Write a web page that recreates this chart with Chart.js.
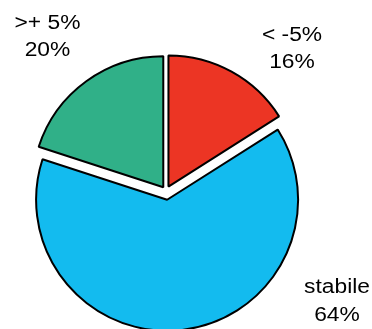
<!DOCTYPE html>
<html>
<head>
<meta charset="utf-8">
<script src="https://cdn.jsdelivr.net/npm/chart.js@4/dist/chart.umd.min.js"></script>
<style>
  html, body { margin: 0; padding: 0; background: #ffffff; }
  #wrap { width: 372px; height: 329px; position: relative; }
</style>
</head>
<body>
<div id="wrap"><canvas id="c" width="372" height="329"></canvas></div>
<script>
const categories = ['< -5%', 'stabile', '>+ 5%'];
const values = [16, 64, 20];
const colors = ['#EC3524', '#13BBEF', '#30B088'];

// label anchor offsets (relative to pie centre): [centre-x offset, first baseline offset]
const labelAnchors = [[126, -150.5], [171, 102], [-118.5, -162.5]];
const explode = 4.4;

function pieCentre(chart) {
  const a = chart.chartArea;
  return { x: (a.left + a.right) / 2, y: (a.top + a.bottom) / 2 };
}

// explode each slice outward along its mid-angle
const explodePlugin = {
  id: 'explodeSlices',
  afterDatasetUpdate(chart, args) {
    const c = pieCentre(chart);
    const meta = chart.getDatasetMeta(args.index);
    meta.data.forEach(arc => {
      const mid = (arc.startAngle + arc.endAngle) / 2;
      const circ = arc.endAngle - arc.startAngle;
      const fix = 1 - Math.sin(Math.min(Math.PI, circ));
      const t = explode * (1 + fix);
      arc.x = c.x + Math.cos(mid) * t;
      arc.y = c.y + Math.sin(mid) * t;
    });
  }
};

const labelPlugin = {
  id: 'outerLabels',
  afterDatasetsDraw(chart) {
    const ctx = chart.ctx;
    const meta = chart.getDatasetMeta(0);
    const c = pieCentre(chart);
    ctx.save();
    ctx.fillStyle = '#000000';
    ctx.font = '20px "Liberation Sans", Arial, sans-serif';
    ctx.textAlign = 'center';
    ctx.textBaseline = 'alphabetic';
    meta.data.forEach((arc, i) => {
      const lines = [categories[i], values[i] + '%'];
      const ax = c.x + labelAnchors[i][0];
      const ay = c.y + labelAnchors[i][1];
      lines.forEach((t, k) => {
        ctx.save();
        ctx.translate(ax, ay + k * 27.5);
        ctx.scale(1.14, 1);
        ctx.fillText(t, 0, 0);
        ctx.restore();
      });
    });
    ctx.restore();
  }
};

new Chart(document.getElementById('c'), {
  type: 'pie',
  data: {
    labels: categories,
    datasets: [{
      data: values,
      backgroundColor: colors,
      borderColor: '#000000',
      borderWidth: 2,
      offset: 0,
      hoverOffset: 0
    }]
  },
  options: {
    responsive: false,
    animation: false,
    radius: 131,
    layout: { padding: { left: 0, right: 40, top: 53, bottom: 0 } },
    plugins: {
      legend: { display: false },
      tooltip: { enabled: false }
    },
    events: []
  },
  plugins: [explodePlugin, labelPlugin]
});
</script>
</body>
</html>
